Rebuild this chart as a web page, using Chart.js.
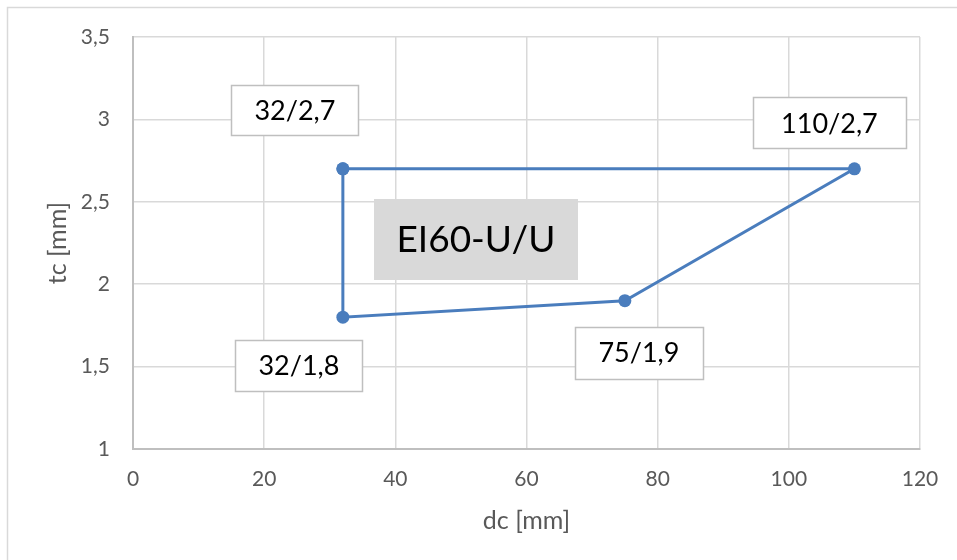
<!DOCTYPE html>
<html>
<head>
<meta charset="utf-8">
<script src="https://cdn.jsdelivr.net/npm/chart.js@4"></script>
<style>
  html, body { margin: 0; padding: 0; background: #ffffff; }
  #wrap { width: 957px; height: 560px; position: relative; }
</style>
</head>
<body>
<div id="wrap"><canvas id="c" width="957" height="560"></canvas></div>
<script>
// ---- data ----
const dcValues = [32, 110, 75, 32, 32];
const tcValues = [2.7, 2.7, 1.9, 1.8, 2.7];
const pointLabels = ['32/2,7', '110/2,7', '75/1,9', '32/1,8'];
const xTickValues = [0, 20, 40, 60, 80, 100, 120];
const yTickValues = [1, 1.5, 2, 2.5, 3, 3.5];
const shapeTitle = 'EI60-U/U';
const shapeTitleAnchor = [52.3, 2.277];
const xAxisTitle = 'dc [mm]';
const yAxisTitle = 'tc [mm]';

// ---- label styling (pixel offsets from each point, box sizes) ----
const labelLayout = [
  { dx: -48, dy: -59, w: 127, h: 50 },
  { dx: -25, dy: -46, w: 153, h: 51 },
  { dx: 14, dy: 52, w: 128, h: 52 },
  { dx: -44, dy: 48, w: 127, h: 51 }
];

const FONT = 'Lato, "Open Sans", sans-serif';

const points = dcValues.map((x, i) => ({ x: x, y: tcValues[i] }));

const fmt = v => String(v).replace('.', ',');

const decorPlugin = {
  id: 'decor',
  beforeDraw(chart) {
    const ctx = chart.ctx;
    ctx.save();
    ctx.fillStyle = '#ffffff';
    ctx.fillRect(0, 0, chart.width, chart.height);
    ctx.strokeStyle = '#d9d9d9';
    ctx.lineWidth = 1.5;
    ctx.beginPath();
    ctx.moveTo(7.5, chart.height);
    ctx.lineTo(7.5, 7.5);
    ctx.lineTo(chart.width, 7.5);
    ctx.stroke();
    ctx.restore();
  },
  beforeDatasetsDraw(chart) {
    const ctx = chart.ctx;
    const xs = chart.scales.x, ys = chart.scales.y;
    // shape title box
    const cx = xs.getPixelForValue(shapeTitleAnchor[0]);
    const cy = ys.getPixelForValue(shapeTitleAnchor[1]);
    ctx.save();
    ctx.fillStyle = '#d9d9d9';
    ctx.fillRect(Math.round(cx - 102), Math.round(cy - 40), 204, 81);
    ctx.fillStyle = '#000000';
    ctx.font = '37px ' + FONT;
    ctx.textAlign = 'center';
    ctx.textBaseline = 'middle';
    ctx.fillText(shapeTitle, cx, cy + 2);
    ctx.restore();
  },
  afterDatasetsDraw(chart) {
    const ctx = chart.ctx;
    const meta = chart.getDatasetMeta(0);
    ctx.save();
    pointLabels.forEach((txt, i) => {
      const el = meta.data[i];
      const L = labelLayout[i];
      const cx = el.x + L.dx, cy = el.y + L.dy;
      const x0 = Math.round(cx - L.w / 2) + 0.5, y0 = Math.round(cy - L.h / 2) + 0.5;
      ctx.fillStyle = '#ffffff';
      ctx.fillRect(x0, y0, L.w, L.h);
      ctx.strokeStyle = '#bfbfbf';
      ctx.lineWidth = 1.5;
      ctx.strokeRect(x0, y0, L.w, L.h);
      ctx.fillStyle = '#000000';
      ctx.font = '27px ' + FONT;
      ctx.textAlign = 'center';
      ctx.textBaseline = 'middle';
      ctx.fillText(txt, cx, cy + 1);
    });
    ctx.restore();
  }
};

new Chart(document.getElementById('c'), {
  type: 'scatter',
  data: {
    datasets: [{
      data: points,
      showLine: true,
      borderColor: '#4a7dbd',
      backgroundColor: '#4a7dbd',
      borderWidth: 3,
      pointRadius: 6.5,
      pointHoverRadius: 6.5,
      pointBorderWidth: 0,
      tension: 0
    }]
  },
  options: {
    responsive: false,
    animation: false,
    events: [],
    layout: { padding: { left: 0, top: 37, right: 37, bottom: 0 } },
    plugins: {
      legend: { display: false },
      tooltip: { enabled: false }
    },
    scales: {
      x: {
        type: 'linear',
        min: xTickValues[0],
        max: xTickValues[xTickValues.length - 1],
        afterBuildTicks: s => { s.ticks = xTickValues.map(v => ({ value: v })); },
        afterFit: s => { s.height = 111; },
        grid: { color: '#d9d9d9', lineWidth: 1.5, drawTicks: false },
        border: { color: '#bfbfbf', width: 2 },
        ticks: {
          color: '#595959',
          font: { family: FONT, size: 21 },
          padding: 18,
          callback: v => fmt(v),
          maxRotation: 0
        },
        title: {
          display: true,
          text: xAxisTitle,
          color: '#595959',
          font: { family: FONT, size: 25 },
          padding: { top: 0, bottom: 24 }
        }
      },
      y: {
        type: 'linear',
        min: yTickValues[0],
        max: yTickValues[yTickValues.length - 1],
        afterBuildTicks: s => { s.ticks = yTickValues.map(v => ({ value: v })); },
        afterFit: s => { s.width = 133; },
        grid: { color: '#d9d9d9', lineWidth: 1.5, drawTicks: false },
        border: { color: '#bfbfbf', width: 2 },
        ticks: {
          color: '#595959',
          font: { family: FONT, size: 21 },
          padding: 23,
          callback: v => fmt(v)
        },
        title: {
          display: true,
          text: yAxisTitle,
          color: '#595959',
          font: { family: FONT, size: 25 },
          padding: { top: 43, bottom: 0 }
        }
      }
    }
  },
  plugins: [decorPlugin]
});
</script>
</body>
</html>
